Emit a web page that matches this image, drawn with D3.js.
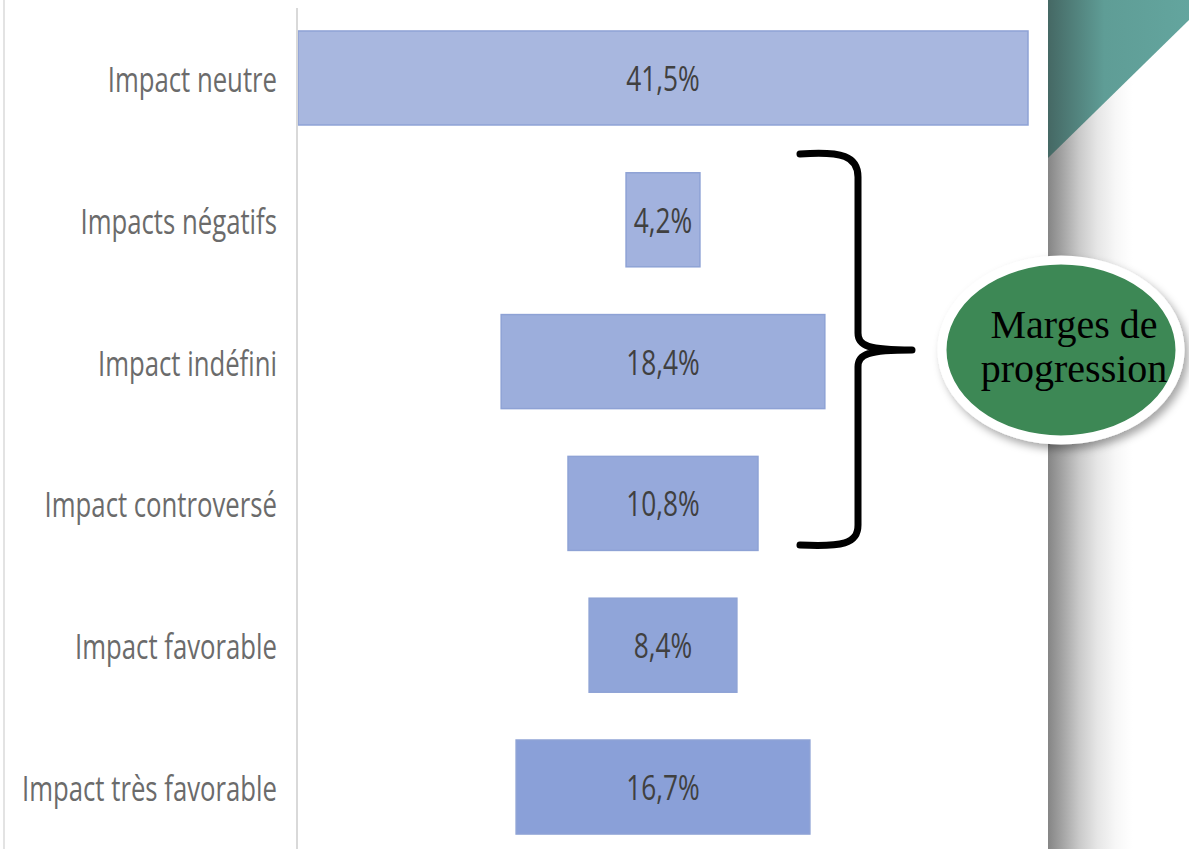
<!DOCTYPE html>
<html>
<head>
<meta charset="utf-8">
<script src="https://cdn.jsdelivr.net/npm/d3@7"></script>
<style>
  body { margin: 0; background: #fff; }
  svg { display: block; }
</style>
</head>
<body>
<div id="chart"></div>
<script>
// funnel data
const categories = ["Impact neutre", "Impacts négatifs", "Impact indéfini",
  "Impact  controversé", "Impact favorable", "Impact très favorable"];
const values = [41.5, 4.2, 18.4, 10.8, 8.4, 16.7];
const valueLabels = ["41,5%", "4,2%", "18,4%", "10,8%", "8,4%", "16,7%"];
const calloutLines = ["Marges de", "progression"];

const width = 1189, height = 849;
const centerX = 663;
const axisX = 297;

const svg = d3.select("#chart").append("svg")
  .attr("width", width)
  .attr("height", height);

const defs = svg.append("defs");

// grey strip on the right
const greyGrad = defs.append("linearGradient").attr("id", "greyGrad");
[["0%", "#858585"], ["10%", "#a3a3a3"], ["22%", "#c9c9c9"], ["35%", "#e6e6e6"],
 ["48%", "#f7f7f7"], ["60%", "#ffffff"], ["100%", "#ffffff"]].forEach(s => {
  greyGrad.append("stop").attr("offset", s[0]).attr("stop-color", s[1]);
});

const tealGrad = defs.append("linearGradient").attr("id", "tealGrad");
tealGrad.append("stop").attr("offset", "0%").attr("stop-color", "#456864");
tealGrad.append("stop").attr("offset", "40%").attr("stop-color", "#5f9d96");
tealGrad.append("stop").attr("offset", "100%").attr("stop-color", "#63a59e");

const shadow = defs.append("filter").attr("id", "shadow")
  .attr("x", "-20%").attr("y", "-20%").attr("width", "140%").attr("height", "140%");
shadow.append("feDropShadow")
  .attr("dx", 4).attr("dy", 5).attr("stdDeviation", 4)
  .attr("flood-color", "#000").attr("flood-opacity", 0.35);

svg.append("rect")
  .attr("x", 1048).attr("y", 0)
  .attr("width", width - 1048).attr("height", height)
  .attr("fill", "url(#greyGrad)");

svg.append("path")
  .attr("d", "M1048,0 L1189,0 L1189,20 L1048,158 Z")
  .attr("fill", "url(#tealGrad)");

// frame line on the left edge
svg.append("line")
  .attr("x1", 4).attr("x2", 4).attr("y1", 0).attr("y2", height)
  .attr("stroke", "#e3e3e3").attr("stroke-width", 2);

// scales
const x = d3.scaleLinear()
  .domain([0, 41.5])
  .range([0, 730]);

const y = d3.scaleBand()
  .domain(categories)
  .range([7, 858])
  .paddingInner(0.337)
  .paddingOuter(0.169);

const color = d3.scaleLinear()
  .domain([0, categories.length - 1])
  .range(["#a8b7df", "#8aa0d8"]);

const rows = categories.map((c, i) => ({ cat: c, value: values[i], label: valueLabels[i], i: i }));

// bars
svg.append("g").selectAll("rect")
  .data(rows)
  .join("rect")
    .attr("x", d => centerX - x(d.value) / 2)
    .attr("y", d => y(d.cat))
    .attr("width", d => x(d.value))
    .attr("height", y.bandwidth())
    .attr("fill", d => color(d.i))
    .attr("stroke", "#8ea2d5")
    .attr("stroke-width", 1.5);

// value labels
svg.append("g").selectAll("text")
  .data(rows)
  .join("text")
    .attr("transform", d => `translate(${centerX},${y(d.cat) + y.bandwidth() / 2 + 13}) scale(0.75,1)`)
    .attr("text-anchor", "middle")
    .attr("font-family", "'Open Sans', sans-serif")
    .attr("font-size", 35)
    .attr("fill", "#404040")
    .text(d => d.label);

// category axis
const yAxis = svg.append("g")
  .attr("transform", `translate(${axisX},0)`)
  .call(d3.axisLeft(y).tickSize(0).tickPadding(0));
yAxis.select(".domain")
  .attr("d", `M0,8V${height}`)
  .attr("stroke", "#d9d9d9")
  .attr("stroke-width", 2);
yAxis.selectAll(".tick text")
  .attr("x", null).attr("dy", null)
  .attr("transform", "translate(-20,14) scale(0.735,1)")
  .attr("text-anchor", "end")
  .attr("font-family", "'Open Sans', sans-serif")
  .attr("font-size", 35)
  .attr("fill", "#6b6b6b");

// curly brace
svg.append("path")
  .attr("d", "M800,154 C842,151 858,156 858,177 L858,333 C858,346 868,350 912,350 " +
             "C868,350 858,354 858,367 L858,525 C858,544 842,547 800,545")
  .attr("fill", "none")
  .attr("stroke", "#000")
  .attr("stroke-width", 7)
  .attr("stroke-linecap", "round")
  .attr("stroke-linejoin", "round");

// callout ellipse
svg.append("ellipse")
  .attr("cx", 1061).attr("cy", 350)
  .attr("rx", 119).attr("ry", 90)
  .attr("fill", "#3d8855")
  .attr("stroke", "#ffffff")
  .attr("stroke-width", 9)
  .attr("filter", "url(#shadow)");

svg.append("g").selectAll("text")
  .data(calloutLines)
  .join("text")
    .attr("x", 1074)
    .attr("y", (d, i) => 338 + i * 44)
    .attr("text-anchor", "middle")
    .attr("font-family", "'Liberation Serif', serif")
    .attr("font-size", 40)
    .attr("fill", "#000")
    .text(d => d);
</script>
</body>
</html>
